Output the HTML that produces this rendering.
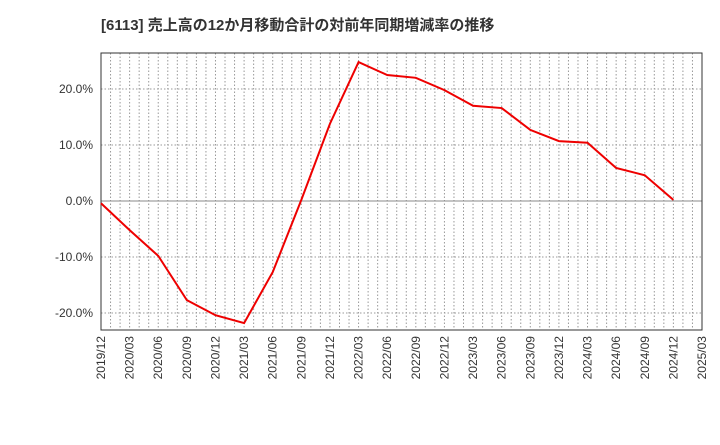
<!DOCTYPE html>
<html><head><meta charset="utf-8"><style>
body{margin:0;background:#fff;font-family:"Liberation Sans","Noto Sans CJK JP",sans-serif}
</style></head><body>
<svg width="720" height="440" xmlns="http://www.w3.org/2000/svg">
<text x="101" y="30" font-size="15" font-weight="bold" fill="#333" font-family="Liberation Sans, Noto Sans CJK JP, sans-serif">[6113]  売上高の12か月移動合計の対前年同期増減率の推移</text>
<g id="grid"></g>
<g id="axes"></g>
<polyline id="line" fill="none" stroke="#e00" stroke-width="2"/>
</svg>
<script>
const categories=["2019/12","2020/03","2020/06","2020/09","2020/12","2021/03","2021/06","2021/09","2021/12","2022/03","2022/06","2022/09","2022/12","2023/03","2023/06","2023/09","2023/12","2024/03","2024/06","2024/09","2024/12"];
const values=[-0.4,-5.2,-9.8,-17.7,-20.4,-21.8,-12.7,0.2,13.8,24.8,22.5,22.0,19.8,17.0,16.6,12.7,10.7,10.4,5.9,4.6,0.2];
const xTickLabels=["2019/12","2020/03","2020/06","2020/09","2020/12","2021/03","2021/06","2021/09","2021/12","2022/03","2022/06","2022/09","2022/12","2023/03","2023/06","2023/09","2023/12","2024/03","2024/06","2024/09","2024/12","2025/03"];
const yTicks=[-20,-10,0,10,20];
const L=101,R=702,T=53,B=330;
const x=i=>L+(R-L)*i/21;
const y=v=>201-v*5.6;
const NS="http://www.w3.org/2000/svg";
const grid=document.getElementById('grid'),axes=document.getElementById('axes');
function mk(tag,attrs,parent){const e=document.createElementNS(NS,tag);for(const k in attrs)e.setAttribute(k,attrs[k]);parent.appendChild(e);return e;}
for(let m=1;m<63;m++){const xx=L+(R-L)*m/63;
const g=mk('line',{x1:xx,x2:xx,y1:T,y2:B,stroke:'#999','stroke-dasharray':'1.5,2'},grid);

}
yTicks.forEach(v=>{const yy=y(v);
const g=mk('line',{x1:L,x2:R,y1:yy,y2:yy,stroke:v===0?'#888':'#999','stroke-dasharray':v===0?'none':'1.5,2'},grid);


const t=mk('text',{x:L-8,y:yy+4,'text-anchor':'end','font-size':'12',fill:'#333'},axes);t.textContent=v.toFixed(1)+'%';

});
const f=mk('rect',{x:L,y:T,width:R-L,height:B-T,fill:'none',stroke:'#333'},axes);


xTickLabels.forEach((s,i)=>{const xx=x(i);
const t=mk('text',{x:0,y:0,transform:`translate(${xx+4},${B+6}) rotate(-90)`,'text-anchor':'end','font-size':'12',fill:'#333'},axes);t.textContent=s;

});
document.getElementById('line').setAttribute('points',values.map((v,i)=>x(i)+','+y(v)).join(' '));
</script>
</body></html>
